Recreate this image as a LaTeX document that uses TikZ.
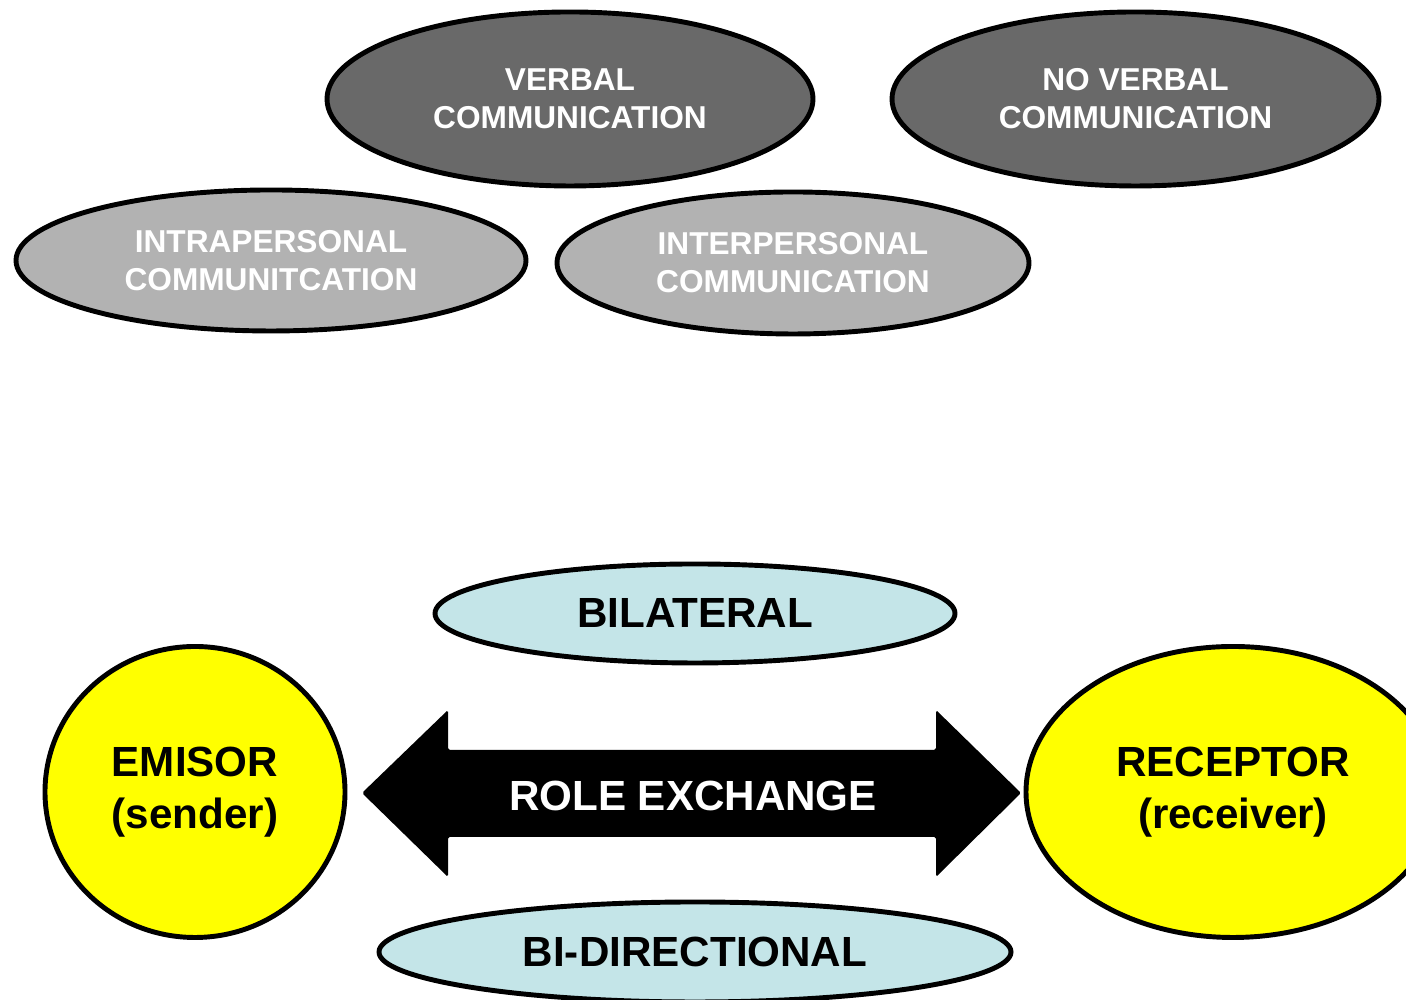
\documentclass[tikz,border=0pt]{standalone}
\usepackage{fontspec}
\setmainfont{Liberation Sans}
\usetikzlibrary{shapes.geometric}
\definecolor{darkoval}{HTML}{696969}
\definecolor{greyoval}{HTML}{B2B2B2}
\definecolor{blueoval}{HTML}{C4E5E8}
\definecolor{roleyellow}{HTML}{FFFF00}
\tikzset{
	oval/.style={ellipse, draw=black, line width=1.4pt, align=center, inner sep=0pt},
	typeoval/.style={oval, text=white, font=\fontsize{9}{10.8}\selectfont\bfseries},
	kindoval/.style={oval, fill=blueoval, font=\fontsize{12}{14}\selectfont\bfseries},
	roleoval/.style={oval, fill=roleyellow, font=\fontsize{12}{14.8}\selectfont\bfseries}
}

\begin{document}
\begin{tikzpicture}
		\useasboundingbox (0,0) rectangle (14.06,10);
		\clip (0,0) rectangle (14.06,10);
		% types of communication
		\node[typeoval, fill=darkoval, minimum width=4.86cm, minimum height=1.74cm] (verbal) at (5.70,9.01) {VERBAL\\COMMUNICATION};
		\node[typeoval, fill=darkoval, minimum width=4.87cm, minimum height=1.74cm] (noverbal) at (11.355,9.01) {NO VERBAL\\COMMUNICATION};
		\node[typeoval, fill=greyoval, minimum width=5.10cm, minimum height=1.41cm] (intra) at (2.71,7.395) {INTRAPERSONAL\\COMMUNITCATION};
		\node[typeoval, fill=greyoval, minimum width=4.72cm, minimum height=1.42cm] (inter) at (7.93,7.37) {INTERPERSONAL\\COMMUNICATION};
		% emisor and receptor
		\node[roleoval, minimum width=3.00cm, minimum height=2.91cm] (emisor) at (1.95,2.08) {EMISOR\\(sender)};
		\node[roleoval, minimum width=4.14cm, minimum height=2.91cm] (receptor) at (12.33,2.08) {RECEPTOR\\(receiver)};
		\node[kindoval, minimum width=5.20cm, minimum height=0.99cm] (bilateral) at (6.95,3.865) {BILATERAL};
		\node[kindoval, minimum width=6.32cm, minimum height=1.00cm] (bidir) at (6.95,0.48) {BI-DIRECTIONAL};
		% role exchange arrow
		\fill[black, rounded corners=0.5pt] (3.62,2.07) -- (4.48,2.90) -- (4.48,2.50) -- (9.36,2.50) -- (9.36,2.90)
			-- (10.21,2.07) -- (9.36,1.23) -- (9.36,1.63) -- (4.48,1.63) -- (4.48,1.23) -- cycle;
		\node[text=white, font=\fontsize{12}{14}\selectfont\bfseries] (role) at (6.93,2.04) {ROLE EXCHANGE};
\end{tikzpicture}
\end{document}
